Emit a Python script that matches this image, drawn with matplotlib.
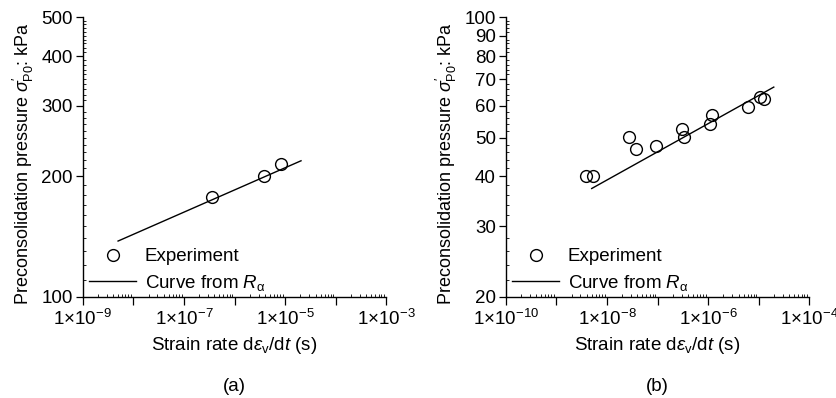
import matplotlib
matplotlib.use("Agg")
import matplotlib.pyplot as plt
import numpy as np
from matplotlib.ticker import FixedLocator, LogLocator, FuncFormatter, NullFormatter
from matplotlib.lines import Line2D

plt.rcParams["font.family"] = ["Liberation Sans", "DejaVu Sans"]
plt.rcParams["mathtext.fontset"] = "custom"
plt.rcParams["mathtext.rm"] = "Liberation Sans"
plt.rcParams["mathtext.it"] = "Liberation Sans:italic"
plt.rcParams["mathtext.sf"] = "Liberation Sans"
FS = 13.5

# panel (a)
a_rate = [3.6e-7, 3.8e-6, 8.3e-6]
a_press = [178, 201, 215]
a_curve_rate = [5.0e-9, 2.06e-5]
a_curve_press = [137.8, 218.8]

# panel (b)
b_rate = [3.8e-9, 5.3e-9, 2.7e-8, 3.8e-8, 9.2e-8, 3.05e-7, 3.4e-7,
          1.09e-6, 1.19e-6, 6.0e-6, 1.06e-5, 1.29e-5]
b_press = [40.0, 40.0, 50.3, 46.8, 47.7, 52.6, 50.2, 54.2, 57.1, 59.7, 63.2, 62.6]
b_curve_rate = [5.0e-9, 1.98e-5]
b_curve_press = [37.3, 66.9]

a_yticks = [100, 200, 300, 400, 500]
b_yticks = [20, 30, 40, 50, 60, 70, 80, 90, 100]

ylabel = r"Preconsolidation pressure $\sigma^{\prime}_{\mathrm{P0}}$: kPa"
xlabel = r"Strain rate d$\varepsilon_{\mathrm{v}}$/d$t$ (s)"


def sci_label(v, pos, first_exp):
    e = int(round(np.log10(v)))
    if (e - first_exp) % 2:
        return ""
    return r"1×10$^{\mathrm{%d}}$" % e


def setup(ax, xlim, ylim, yticks, ystep):
    ax.set_xscale("log")
    ax.set_yscale("log")
    ax.set_xlim(*xlim)
    ax.set_ylim(*ylim)
    first = int(round(np.log10(xlim[0])))
    ax.xaxis.set_major_locator(LogLocator(base=10, numticks=20))
    ax.xaxis.set_minor_locator(LogLocator(base=10, subs=np.arange(2, 10), numticks=20))
    ax.xaxis.set_major_formatter(FuncFormatter(lambda v, p: sci_label(v, p, first)))
    ax.xaxis.set_minor_formatter(NullFormatter())
    ax.yaxis.set_major_locator(FixedLocator(yticks))
    ax.yaxis.set_major_formatter(FuncFormatter(lambda v, p: "%d" % v))
    ax.yaxis.set_minor_locator(FixedLocator(np.arange(ylim[0], ylim[1], ystep)))
    ax.yaxis.set_minor_formatter(NullFormatter())
    ax.tick_params(which="major", direction="out", length=5, width=0.9, labelsize=FS)
    ax.tick_params(which="minor", direction="in", length=2, width=0.6)
    ax.tick_params(axis="x", which="major", length=6, pad=3)
    ax.tick_params(axis="y", which="major", pad=2)
    for s in ["top", "right"]:
        ax.spines[s].set_visible(False)
    for s in ["left", "bottom"]:
        ax.spines[s].set_linewidth(1.0)
    ax.set_xlabel(xlabel, fontsize=FS, labelpad=4)
    ax.set_ylabel(ylabel, fontsize=13)
    ax.yaxis.set_label_coords(-0.155, 0.475)


fig = plt.figure(figsize=(8.37, 3.98), dpi=100)
ax1 = fig.add_axes([0.0988, 0.2545, 0.3628, 0.702])
ax2 = fig.add_axes([0.6042, 0.2545, 0.3628, 0.702])

panels = [
    (ax1, (1e-9, 1e-3), (100, 500), a_yticks, 10, a_rate, a_press, a_curve_rate, a_curve_press, "(a)"),
    (ax2, (1e-10, 1e-4), (20, 100), b_yticks, 2, b_rate, b_press, b_curve_rate, b_curve_press, "(b)"),
]

for ax, xlim, ylim, yt, ystep, xr, yp, cx, cy, tag in panels:
    setup(ax, xlim, ylim, yt, ystep)
    ax.plot(cx, cy, color="black", lw=1.0)
    ax.plot(xr, yp, "o", ms=8.5, mfc="none", mec="black", mew=1.0, ls="none")
    handles = [
        Line2D([], [], marker="o", ms=8.5, mfc="none", mec="black", mew=1.0, ls="none"),
        Line2D([], [], color="black", lw=1.0),
    ]
    ax.legend(handles, ["Experiment", r"Curve from $R_{\mathrm{\alpha}}$"],
              loc="lower left", bbox_to_anchor=(0.0, -0.01), frameon=False,
              handlelength=2.5, handletextpad=0.45, labelspacing=0.4,
              borderaxespad=0.2, borderpad=0.15, fontsize=FS)
    pos = ax.get_position()
    fig.text((pos.x0 + pos.x1) / 2, 0.03, tag, ha="center", va="center", fontsize=FS)

fig.savefig("out.png", dpi=100)
